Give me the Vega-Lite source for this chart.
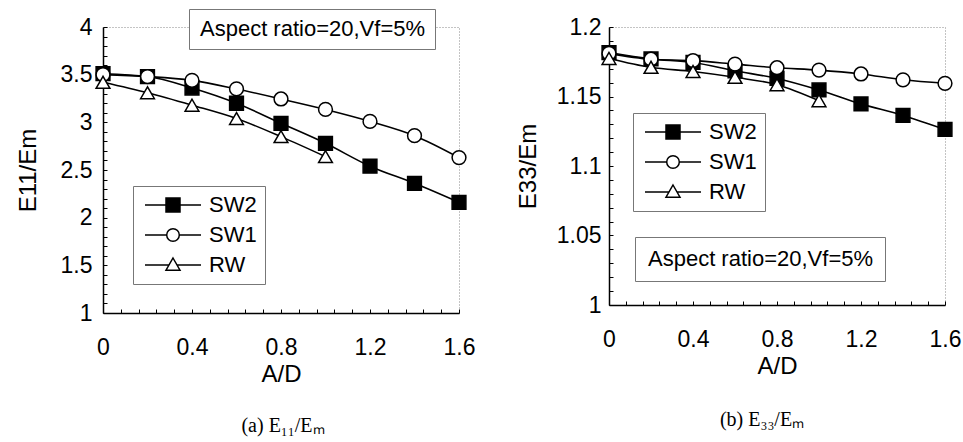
{
  "$schema": "https://vega.github.io/schema/vega-lite/v6.json",
  "background": "white",
  "padding": {"left": 15, "top": 8, "right": 5, "bottom": 5},
  "spacing": 39,
  "config": {
    "view": {"stroke": "#888888", "strokeDash": [1, 2], "strokeWidth": 1},
    "font": "Liberation Sans",
    "axis": {
      "domainColor": "black", "domainWidth": 1.5, "tickColor": "black", "tickSize": -4, "tickWidth": 1,
      "labelFont": "Liberation Sans", "labelFontSize": 23, "labelColor": "black",
      "titleFont": "Liberation Sans", "titleFontSize": 24, "titleFontWeight": "normal", "titleColor": "black",
      "grid": false, "labelOverlap": false, "labelFlush": false
    },
    "axisX": {"labelPadding": 27, "titlePadding": 3},
    "axisY": {"labelPadding": 15, "titlePadding": 20},
    "legend": {"labelFont": "Liberation Sans", "labelFontSize": 22, "labelColor": "black", "strokeColor": "#777777", "fillColor": "white", "padding": 8, "rowPadding": 8, "labelLimit": 400},
    "title": {"font": "Liberation Serif", "fontSize": 20, "fontWeight": "normal", "color": "black"}
  },
  "datasets": {
    "e11": [
      {"series": "SW2", "AD": 0, "ratio": 3.51}, {"series": "SW2", "AD": 0.2, "ratio": 3.48}, {"series": "SW2", "AD": 0.4, "ratio": 3.36},
      {"series": "SW2", "AD": 0.6, "ratio": 3.2}, {"series": "SW2", "AD": 0.8, "ratio": 2.99}, {"series": "SW2", "AD": 1.0, "ratio": 2.78},
      {"series": "SW2", "AD": 1.2, "ratio": 2.54}, {"series": "SW2", "AD": 1.4, "ratio": 2.36}, {"series": "SW2", "AD": 1.6, "ratio": 2.16},
      {"series": "SW1", "AD": 0, "ratio": 3.5}, {"series": "SW1", "AD": 0.2, "ratio": 3.48}, {"series": "SW1", "AD": 0.4, "ratio": 3.44},
      {"series": "SW1", "AD": 0.6, "ratio": 3.35}, {"series": "SW1", "AD": 0.8, "ratio": 3.245}, {"series": "SW1", "AD": 1.0, "ratio": 3.135},
      {"series": "SW1", "AD": 1.2, "ratio": 3.01}, {"series": "SW1", "AD": 1.4, "ratio": 2.86}, {"series": "SW1", "AD": 1.6, "ratio": 2.63},
      {"series": "RW", "AD": 0, "ratio": 3.42}, {"series": "RW", "AD": 0.2, "ratio": 3.31}, {"series": "RW", "AD": 0.4, "ratio": 3.18},
      {"series": "RW", "AD": 0.6, "ratio": 3.04}, {"series": "RW", "AD": 0.8, "ratio": 2.85}, {"series": "RW", "AD": 1.0, "ratio": 2.64}
    ],
    "e33": [
      {"series": "SW2", "AD": 0, "ratio": 1.1816}, {"series": "SW2", "AD": 0.2, "ratio": 1.177}, {"series": "SW2", "AD": 0.4, "ratio": 1.1745},
      {"series": "SW2", "AD": 0.6, "ratio": 1.1685}, {"series": "SW2", "AD": 0.8, "ratio": 1.163}, {"series": "SW2", "AD": 1.0, "ratio": 1.1547},
      {"series": "SW2", "AD": 1.2, "ratio": 1.1447}, {"series": "SW2", "AD": 1.4, "ratio": 1.1364}, {"series": "SW2", "AD": 1.6, "ratio": 1.1263},
      {"series": "SW1", "AD": 0, "ratio": 1.181}, {"series": "SW1", "AD": 0.2, "ratio": 1.1768}, {"series": "SW1", "AD": 0.4, "ratio": 1.1758},
      {"series": "SW1", "AD": 0.6, "ratio": 1.1733}, {"series": "SW1", "AD": 0.8, "ratio": 1.1707}, {"series": "SW1", "AD": 1.0, "ratio": 1.169},
      {"series": "SW1", "AD": 1.2, "ratio": 1.1662}, {"series": "SW1", "AD": 1.4, "ratio": 1.162}, {"series": "SW1", "AD": 1.6, "ratio": 1.1595},
      {"series": "RW", "AD": 0, "ratio": 1.1774}, {"series": "RW", "AD": 0.2, "ratio": 1.171}, {"series": "RW", "AD": 0.4, "ratio": 1.168},
      {"series": "RW", "AD": 0.6, "ratio": 1.1638}, {"series": "RW", "AD": 0.8, "ratio": 1.1585}, {"series": "RW", "AD": 1.0, "ratio": 1.147}
    ]
  },
  "hconcat": [
    {
      "width": 356,
      "height": 286,
      "title": {"text": "(a) E₁₁/Eₘ", "orient": "bottom", "anchor": "middle", "dx": 2, "offset": 30},
      "layer": [
        {
          "data": {"name": "e11"},
          "encoding": {
            "x": {"field": "AD", "type": "quantitative", "title": "A/D",
              "scale": {"domain": [0, 1.6], "nice": false, "zero": false},
              "axis": {"format": "~g", "values": [0, 0.08, 0.16, 0.24, 0.32, 0.4, 0.48, 0.56, 0.64, 0.72, 0.8, 0.88, 0.96, 1.04, 1.12, 1.2, 1.28, 1.36, 1.44, 1.52, 1.6],
                "labelExpr": "round(datum.value*100) % 40 === 0 ? datum.label : ''"}},
            "y": {"field": "ratio", "type": "quantitative", "title": "E11/Em",
              "scale": {"domain": [1, 4], "nice": false, "zero": false},
              "axis": {"format": "~g", "values": [1, 1.1, 1.2, 1.3, 1.4, 1.5, 1.6, 1.7, 1.8, 1.9, 2, 2.1, 2.2, 2.3, 2.4, 2.5, 2.6, 2.7, 2.8, 2.9, 3, 3.1, 3.2, 3.3, 3.4, 3.5, 3.6, 3.7, 3.8, 3.9, 4],
                "labelExpr": "round(datum.value*10) % 5 === 0 ? datum.label : ''"}}
          },
          "layer": [
            {"mark": {"type": "line", "color": "black", "strokeWidth": 1.6, "interpolate": "monotone"},
             "encoding": {"detail": {"field": "series", "type": "nominal"}}},
            {"mark": {"type": "point", "stroke": "black", "strokeWidth": 1.5, "opacity": 1, "size": 190},
             "encoding": {
               "shape": {"field": "series", "type": "nominal", "scale": {"domain": ["SW2", "SW1", "RW"], "range": ["square", "circle", "triangle-up"]}, "legend": null},
               "fill": {"field": "series", "type": "nominal", "scale": {"domain": ["SW2", "SW1", "RW"], "range": ["black", "white", "white"]}, "legend": null}
             }},
            {"transform": [{"filter": "datum.AD == 0.8"}],
             "mark": {"type": "point", "stroke": "black", "strokeWidth": 1.5, "opacity": 0, "size": 196},
             "encoding": {
               "shape": {"field": "series", "type": "nominal",
                 "scale": {"domain": ["SW2", "SW1", "RW"], "range": ["M-1,0H2M4,0H7M2,-1H4V1H2Z", "M-1,0H2.1M3.9,0H7M3.9,0A0.9,0.9 0 1,1 2.1,0A0.9,0.9 0 1,1 3.9,0Z", "M-1,0H2.43M3.57,0H7M3,-1L4,0.75L2,0.75Z"]},
                 "legend": {"title": null, "orient": "none", "legendX": 30, "legendY": 159, "symbolSize": 196, "labelOffset": 46, "symbolOpacity": 1,
                   "encode": {"symbols": {"stroke": {"value": "black"}, "strokeWidth": {"value": 1.5}, "opacity": {"value": 1}}}}},
               "fill": {"field": "series", "type": "nominal",
                 "scale": {"domain": ["SW2", "SW1", "RW"], "range": ["black", "white", "white"]},
                 "legend": {"title": null, "orient": "none", "legendX": 30, "legendY": 159, "symbolSize": 196, "labelOffset": 46, "symbolOpacity": 1,
                   "encode": {"symbols": {"stroke": {"value": "black"}, "strokeWidth": {"value": 1.5}, "opacity": {"value": 1}}}}}
             }}
          ],
          "resolve": {"scale": {"shape": "independent", "fill": "independent"}, "legend": {"shape": "independent", "fill": "independent"}}
        },
        {
          "data": {"values": [{"note": "Aspect ratio=20,Vf=5%"}]},
          "mark": {"type": "point", "opacity": 0},
          "encoding": {
            "color": {"field": "note", "type": "nominal", "scale": {"range": ["transparent"]},
              "legend": {"title": null, "orient": "none", "legendX": 86, "legendY": -18, "symbolSize": 0, "symbolOpacity": 0, "symbolStrokeWidth": 0, "labelOffset": -20, "padding": 9, "labelFontSize": 22}}
          }
        }
      ]
    },
    {
      "width": 336,
      "height": 278,
      "title": {"text": "(b) E₃₃/Eₘ", "orient": "bottom", "anchor": "middle", "dx": -15, "offset": 32},
      "layer": [
        {
          "data": {"name": "e33"},
          "encoding": {
            "x": {"field": "AD", "type": "quantitative", "title": "A/D",
              "scale": {"domain": [0, 1.6], "nice": false, "zero": false},
              "axis": {"format": "~g", "values": [0, 0.08, 0.16, 0.24, 0.32, 0.4, 0.48, 0.56, 0.64, 0.72, 0.8, 0.88, 0.96, 1.04, 1.12, 1.2, 1.28, 1.36, 1.44, 1.52, 1.6],
                "labelExpr": "round(datum.value*100) % 40 === 0 ? datum.label : ''"}},
            "y": {"field": "ratio", "type": "quantitative", "title": "E33/Em",
              "scale": {"domain": [1, 1.2], "nice": false, "zero": false},
              "axis": {"format": "~g", "labelPadding": 12, "titlePadding": 16, "values": [1, 1.01, 1.02, 1.03, 1.04, 1.05, 1.06, 1.07, 1.08, 1.09, 1.1, 1.11, 1.12, 1.13, 1.14, 1.15, 1.16, 1.17, 1.18, 1.19, 1.2],
                "labelExpr": "round(datum.value*100) % 5 === 0 ? datum.label : ''"}}
          },
          "layer": [
            {"mark": {"type": "line", "color": "black", "strokeWidth": 1.6, "interpolate": "monotone"},
             "encoding": {"detail": {"field": "series", "type": "nominal"}}},
            {"mark": {"type": "point", "stroke": "black", "strokeWidth": 1.5, "opacity": 1, "size": 190},
             "encoding": {
               "shape": {"field": "series", "type": "nominal", "scale": {"domain": ["SW2", "SW1", "RW"], "range": ["square", "circle", "triangle-up"]}, "legend": null},
               "fill": {"field": "series", "type": "nominal", "scale": {"domain": ["SW2", "SW1", "RW"], "range": ["black", "white", "white"]}, "legend": null}
             }},
            {"transform": [{"filter": "datum.AD == 0.8"}],
             "mark": {"type": "point", "stroke": "black", "strokeWidth": 1.5, "opacity": 0, "size": 196},
             "encoding": {
               "shape": {"field": "series", "type": "nominal",
                 "scale": {"domain": ["SW2", "SW1", "RW"], "range": ["M-1,0H2M4,0H7M2,-1H4V1H2Z", "M-1,0H2.1M3.9,0H7M3.9,0A0.9,0.9 0 1,1 2.1,0A0.9,0.9 0 1,1 3.9,0Z", "M-1,0H2.43M3.57,0H7M3,-1L4,0.75L2,0.75Z"]},
                 "legend": {"title": null, "orient": "none", "legendX": 24, "legendY": 86, "symbolSize": 196, "labelOffset": 46, "symbolOpacity": 1,
                   "encode": {"symbols": {"stroke": {"value": "black"}, "strokeWidth": {"value": 1.5}, "opacity": {"value": 1}}}}},
               "fill": {"field": "series", "type": "nominal",
                 "scale": {"domain": ["SW2", "SW1", "RW"], "range": ["black", "white", "white"]},
                 "legend": {"title": null, "orient": "none", "legendX": 24, "legendY": 86, "symbolSize": 196, "labelOffset": 46, "symbolOpacity": 1,
                   "encode": {"symbols": {"stroke": {"value": "black"}, "strokeWidth": {"value": 1.5}, "opacity": {"value": 1}}}}}
             }}
          ],
          "resolve": {"scale": {"shape": "independent", "fill": "independent"}, "legend": {"shape": "independent", "fill": "independent"}}
        },
        {
          "data": {"values": [{"note": "Aspect ratio=20,Vf=5%"}]},
          "mark": {"type": "point", "opacity": 0},
          "encoding": {
            "color": {"field": "note", "type": "nominal", "scale": {"range": ["transparent"]},
              "legend": {"title": null, "orient": "none", "legendX": 26, "legendY": 210, "symbolSize": 0, "symbolOpacity": 0, "symbolStrokeWidth": 0, "labelOffset": -20, "padding": 11, "labelFontSize": 22}}
          }
        }
      ]
    }
  ],
  "resolve": {
    "scale": {"color": "independent", "shape": "independent", "fill": "independent"},
    "legend": {"color": "independent", "shape": "independent", "fill": "independent"}
  }
}
